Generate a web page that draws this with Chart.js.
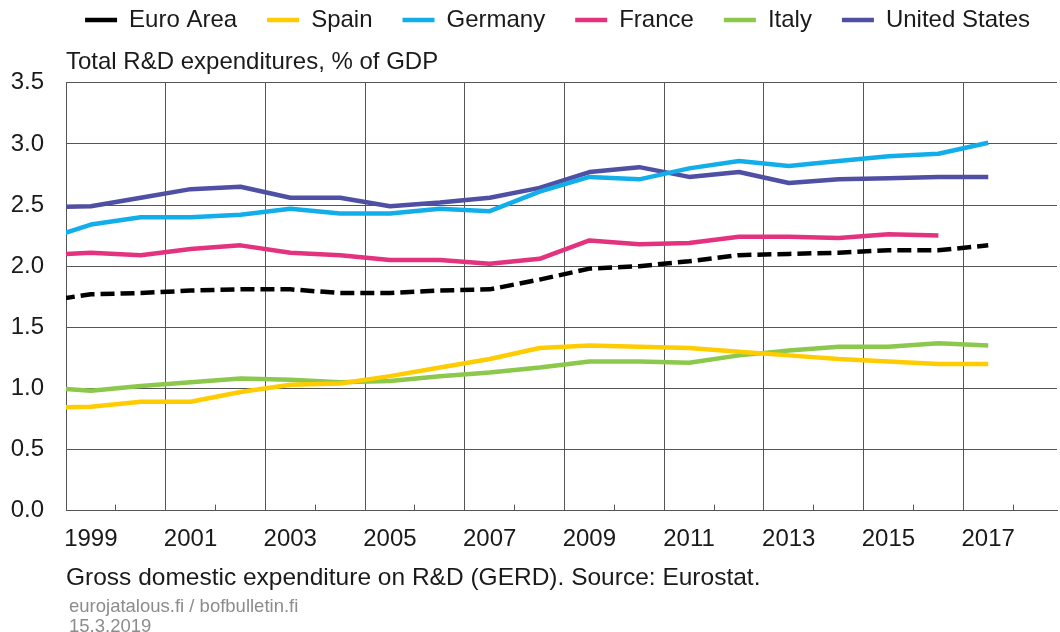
<!DOCTYPE html>
<html>
<head>
<meta charset="utf-8">
<title>Total R&amp;D expenditures, % of GDP</title>
<script src="https://cdn.jsdelivr.net/npm/chart.js@4/dist/chart.umd.min.js"></script>
<style>
    body { margin: 0; background: #ffffff; }
    #wrap { position: relative; width: 1060px; height: 632px; }
    #source {
        position: absolute;
        left: 69px;
        top: 596px;
        font-family: 'Liberation Sans', Arial, sans-serif;
        font-size: 18.5px;
        line-height: 20px;
        color: #8c8c8c;
    }
</style>
</head>
<body>
<div id="wrap">
    <canvas id="rdChart"></canvas>
    <div id="source">eurojatalous.fi / bofbulletin.fi<br>15.3.2019</div>
</div>
<script>
// ==================== DATA ====================
// 1998 is only there so the lines run in from the left edge (clipped)
const YEARS = [1998, 1999, 2000, 2001, 2002, 2003, 2004, 2005, 2006, 2007,
               2008, 2009, 2010, 2011, 2012, 2013, 2014, 2015, 2016, 2017];
const LABEL_YEARS = [1999, 2001, 2003, 2005, 2007, 2009, 2011, 2013, 2015, 2017];
const Y_TICKS = [0, 0.5, 1, 1.5, 2, 2.5, 3, 3.5];

const EURO_AREA = [1.71, 1.77, 1.78, 1.80, 1.81, 1.81, 1.78, 1.78, 1.80, 1.81,
                   1.89, 1.98, 2.00, 2.04, 2.09, 2.10, 2.11, 2.13, 2.13, 2.17];
const SPAIN = [0.84, 0.85, 0.89, 0.89, 0.97, 1.03, 1.04, 1.10, 1.17, 1.24,
               1.33, 1.35, 1.34, 1.33, 1.30, 1.27, 1.24, 1.22, 1.20, 1.20];
const GERMANY = [2.21, 2.34, 2.40, 2.40, 2.42, 2.47, 2.43, 2.43, 2.47, 2.45,
                 2.61, 2.73, 2.71, 2.80, 2.86, 2.82, 2.86, 2.90, 2.92, 3.01];
const FRANCE = [2.09, 2.11, 2.09, 2.14, 2.17, 2.11, 2.09, 2.05, 2.05, 2.02,
                2.06, 2.21, 2.18, 2.19, 2.24, 2.24, 2.23, 2.26, 2.25, null];
const ITALY = [1.01, 0.98, 1.02, 1.05, 1.08, 1.07, 1.05, 1.06, 1.10, 1.13,
               1.17, 1.22, 1.22, 1.21, 1.27, 1.31, 1.34, 1.34, 1.37, 1.35];
const UNITED_STATES = [2.48, 2.49, 2.56, 2.63, 2.65, 2.56, 2.56, 2.49, 2.52, 2.56,
                       2.64, 2.77, 2.81, 2.73, 2.77, 2.68, 2.71, 2.72, 2.73, 2.73];

// ==================== STYLE ====================
const FONT = "'Liberation Sans', Arial, sans-serif";
const TEXT = '#1a1a1a';
const GRID = '#555555';

Chart.defaults.font.family = FONT;
Chart.defaults.font.size = 24;
Chart.defaults.color = TEXT;

function series(label, data, color, dash) {
    return {
        label: label,
        data: data,
        borderColor: color,
        backgroundColor: color,
        borderWidth: 4.5,
        borderDash: dash || [],
        pointRadius: 0,
        tension: 0,
        borderJoinStyle: 'round',
        spanGaps: false,
        clip: 0
    };
}

// ==================== CHART ====================
const ctx = document.getElementById('rdChart').getContext('2d');

const rdChart = new Chart(ctx, {
    type: 'line',
    data: {
        labels: YEARS,
        datasets: [
            series('Euro Area', EURO_AREA, '#000000', [14, 6]),
            series('Spain', SPAIN, '#FFCC00'),
            series('Germany', GERMANY, '#12AEEA'),
            series('France', FRANCE, '#E3337F'),
            series('Italy', ITALY, '#8CC84B'),
            series('United States', UNITED_STATES, '#4F4FA3')
        ]
    },
    options: {
        responsive: true,
        maintainAspectRatio: false,
        animation: false,
        layout: {
            padding: { top: -22, left: 0, right: 0, bottom: 39 }
        },
        plugins: {
            legend: {
                position: 'top',
                align: 'end',
                weight: 3000,
                labels: {
                    usePointStyle: true,
                    pointStyle: 'line',
                    pointStyleWidth: 32,
                    padding: 30,
                    color: TEXT,
                    font: { size: 24 }
                }
            },
            title: {
                display: true,
                text: 'Total R&D expenditures, % of GDP',
                position: 'top',
                align: 'start',
                fullSize: false,
                color: TEXT,
                font: { size: 24, weight: 'normal' },
                padding: { top: 6, bottom: 6 }
            },
            subtitle: {
                display: true,
                text: 'Gross domestic expenditure on R&D (GERD). Source: Eurostat.',
                position: 'bottom',
                align: 'start',
                fullSize: false,
                color: TEXT,
                font: { size: 24.5, weight: 'normal' },
                padding: { top: 10, bottom: 0 }
            },
            tooltip: { enabled: false }
        },
        scales: {
            // vertical grid lines between the year pairs
            x: {
                type: 'linear',
                position: 'bottom',
                weight: 0,
                min: 1998.5,
                max: 2018.38,
                afterBuildTicks: (scale) => {
                    scale.ticks = LABEL_YEARS.map(y => ({ value: y - 0.5 }));
                },
                grid: { color: GRID, lineWidth: 1, drawTicks: false },
                border: { display: true, color: GRID, width: 1 },
                ticks: { display: false }
            },
            // year labels + small inward tick marks
            xl: {
                type: 'linear',
                position: 'bottom',
                weight: 1,
                min: 1998.5,
                max: 2018.38,
                afterBuildTicks: (scale) => {
                    scale.ticks = LABEL_YEARS.map(y => ({ value: y + 0.5 }));
                },
                afterFit: (scale) => {
                    scale.height = 43;
                },
                grid: {
                    display: true,
                    drawOnChartArea: false,
                    drawTicks: true,
                    tickLength: -6,
                    color: GRID,
                    lineWidth: 1
                },
                border: { display: false },
                ticks: {
                    autoSkip: false,
                    maxRotation: 0,
                    padding: 20,
                    labelOffset: -25,
                    color: TEXT,
                    font: { size: 24 },
                    callback: (value) => String(Math.round(value - 0.5))
                }
            },
            y: {
                min: 0,
                max: 3.5,
                afterBuildTicks: (scale) => {
                    scale.ticks = Y_TICKS.map(v => ({ value: v }));
                },
                afterFit: (scale) => {
                    scale.width = 66;
                },
                grid: { color: GRID, lineWidth: 1, drawTicks: false },
                border: { display: true, color: GRID, width: 1 },
                ticks: {
                    padding: 22,
                    color: TEXT,
                    font: { size: 24 },
                    callback: (value) => Number(value).toFixed(1)
                }
            }
        }
    }
});
</script>
</body>
</html>
